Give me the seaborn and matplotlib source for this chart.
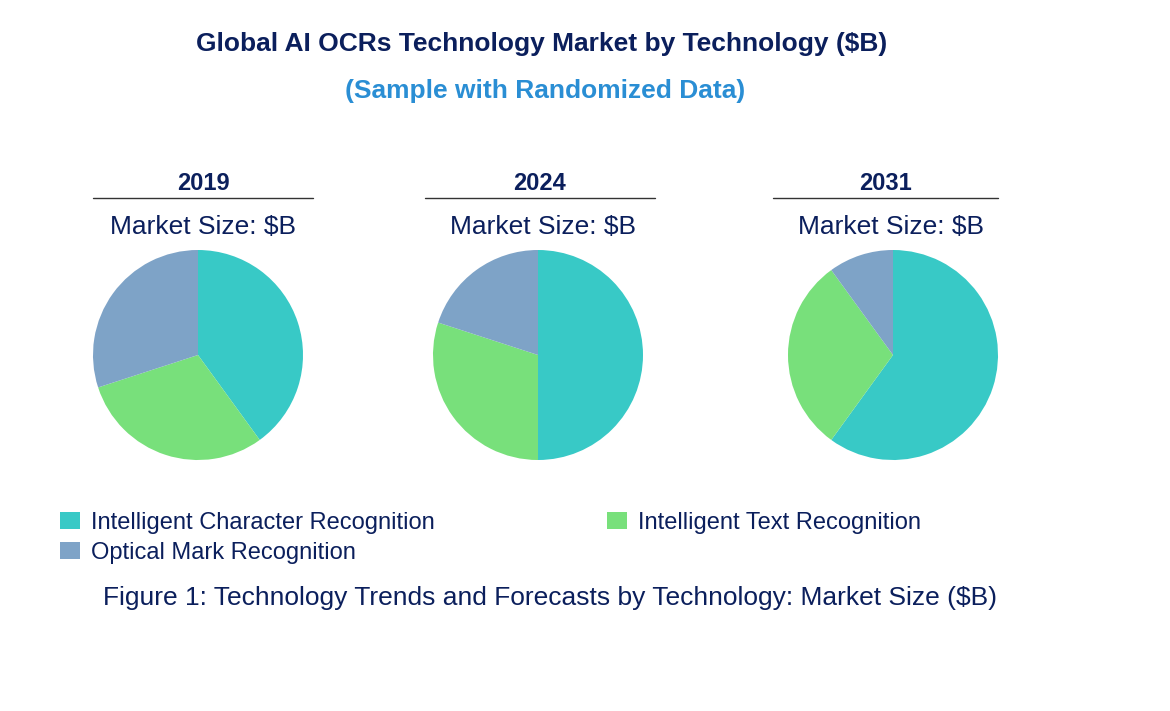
import numpy as np
import pandas as pd
import seaborn as sns
import matplotlib.pyplot as plt
from matplotlib.patches import Patch
from matplotlib.lines import Line2D

years = ['2019', '2024', '2031']
technologies = ['Intelligent Character Recognition', 'Intelligent Text Recognition', 'Optical Mark Recognition']
share_2019 = [40, 30, 30]
share_2024 = [50, 30, 20]
share_2031 = [60, 30, 10]
colors = ['#38C9C6', '#78E07B', '#7EA3C7']

sns.set_theme(style='white')
plt.rcParams['font.family'] = ['Liberation Sans', 'DejaVu Sans']
navy = '#0B1F5C'

W, H = 1170, 711
fig = plt.figure(figsize=(W / 100, H / 100), dpi=100)
fig.patch.set_facecolor('white')

def fx(x):
    return x / W

def fy(y):
    return 1 - y / H

fig.text(fx(542), fy(44), 'Global AI OCRs Technology Market by Technology ($B)',
         ha='center', va='center', fontsize=19, fontweight='bold', color=navy)
fig.text(fx(545), fy(91), '(Sample with Randomized Data)',
         ha='center', va='center', fontsize=19, fontweight='bold', color='#2A8ED4')

centers = [198, 538, 893]
label_x = [203, 540, 885]
line_spans = [(93, 313), (425, 655), (773, 998)]
size_x = [203, 543, 891]
shares = [share_2019, share_2024, share_2031]
r = 105

for i, yr in enumerate(years):
    cx = centers[i]
    ax = fig.add_axes([fx(cx - r), fy(355 + r), 2 * r / W, 2 * r / H])
    ax.pie(shares[i], colors=colors, startangle=90, counterclock=False,
           wedgeprops=dict(linewidth=0))
    ax.set_xlim(-1, 1)
    ax.set_ylim(-1, 1)
    ax.set_aspect('equal')
    ax.axis('off')
    fig.text(fx(label_x[i]), fy(183), yr, ha='center', va='center',
             fontsize=17, fontweight='bold', color=navy)
    x0, x1 = line_spans[i]
    fig.add_artist(Line2D([fx(x0), fx(x1)], [fy(198), fy(198)], color='#333333', lw=1))
    fig.text(fx(size_x[i]), fy(227), 'Market Size: $B', ha='center', va='center',
             fontsize=19, color=navy)

# legend: col 1 ICR, OMR ; col 2 ITR
order = [0, 2, 1]
handles = [Patch(facecolor=colors[k], edgecolor='none', label=technologies[k]) for k in order]
leg = fig.legend(handles=handles, ncol=2, loc='upper left',
                 bbox_to_anchor=(fx(60), fy(512)), frameon=False,
                 fontsize=17, handlelength=0.85, handleheight=0.75,
                 handletextpad=0.45, columnspacing=7.3, labelspacing=0.33,
                 borderpad=0, borderaxespad=0)
for t in leg.get_texts():
    t.set_color(navy)

fig.text(fx(550), fy(598), 'Figure 1: Technology Trends and Forecasts by Technology: Market Size ($B)',
         ha='center', va='center', fontsize=19, color=navy)

fig.savefig('out.png', dpi=100, facecolor='white')
